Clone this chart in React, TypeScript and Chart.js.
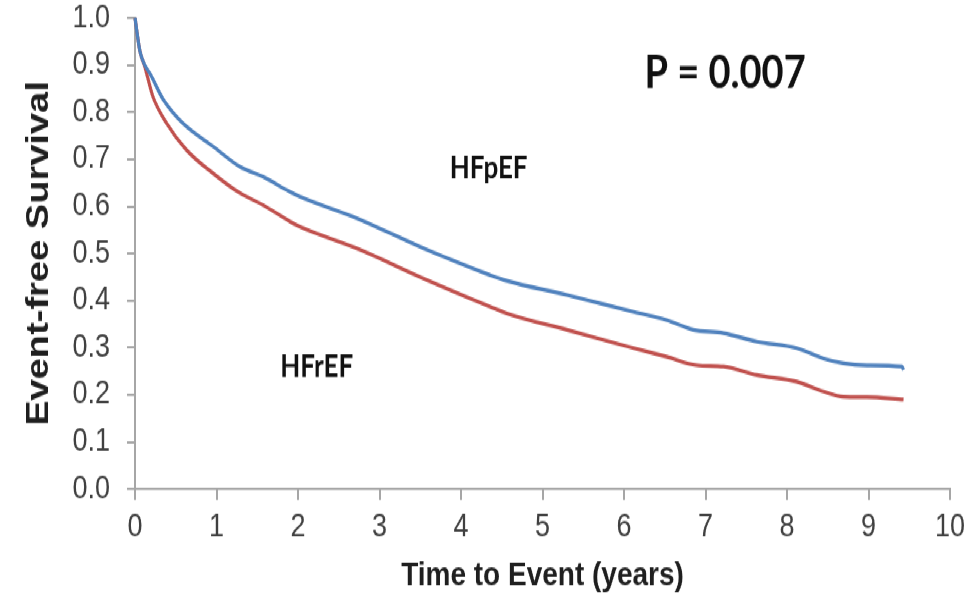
import React, { useEffect, useRef } from "react";
import { Chart, registerables } from "chart.js";

Chart.register(...registerables);

// ---- data ----
const hfpefTime = [0, 0.06, 0.12, 0.18, 0.35, 0.59, 0.96, 1.29, 1.57, 1.9, 2.02, 2.72, 3.54, 4.36, 4.56, 5.3, 6.12, 6.52, 6.85, 7.22, 7.63, 8.12, 8.45, 8.69, 8.98, 9.41, 9.43];
const hfpefSurvival = [1.0, 0.93, 0.9, 0.883, 0.826, 0.776, 0.727, 0.684, 0.663, 0.631, 0.621, 0.575, 0.511, 0.454, 0.442, 0.412, 0.376, 0.359, 0.338, 0.331, 0.313, 0.299, 0.277, 0.267, 0.263, 0.26, 0.253];

const hfrefTime = [0, 0.06, 0.12, 0.22, 0.39, 0.63, 0.96, 1.29, 1.57, 1.9, 2.02, 2.72, 3.54, 4.36, 4.56, 5.3, 6.12, 6.52, 6.89, 7.22, 7.63, 8.12, 8.45, 8.69, 8.98, 9.43];
const hfrefSurvival = [1.0, 0.93, 0.897, 0.833, 0.776, 0.72, 0.67, 0.628, 0.603, 0.568, 0.557, 0.511, 0.447, 0.387, 0.373, 0.338, 0.299, 0.281, 0.263, 0.26, 0.242, 0.228, 0.207, 0.196, 0.195, 0.19];

const xTitle = "Time to Event (years)";
const yTitle = "Event-free Survival";

const annotationLabels = ["P = 0.007", "HFpEF", "HFrEF"];
const annotationX = [7.24, 4.34, 2.23];
const annotationY = [0.851, 0.66, 0.238];

// ---- styling ----
const CANVAS_W = 979;
const CANVAS_H = 507;
const STRETCH = 603 / CANVAS_H;
const AXIS_COLOR = "#a6a6a6";
const TICK_COLOR = "#404040";
const TITLE_COLOR = "#1f1f1f";
const SANS = "'Liberation Sans', Arial, sans-serif";
const ANNOT_FONT_SIZES = [38, 26, 26];

const annotationPlugin = {
  id: "kmLabels",
  afterDatasetsDraw(chart: any) {
    const { ctx, scales } = chart;
    const xs = scales.x;
    const ys = scales.y;
    ctx.save();
    ctx.fillStyle = "#111111";
    ctx.textAlign = "center";
    ctx.textBaseline = "alphabetic";
    annotationLabels.forEach((text, i) => {
      ctx.font = `bold ${ANNOT_FONT_SIZES[i]}px Lato, 'Open Sans', sans-serif`;
      ctx.fillText(text, xs.getPixelForValue(annotationX[i]), ys.getPixelForValue(annotationY[i]));
    });
    ctx.restore();
  },
};

export default function App() {
  const ref = useRef<HTMLCanvasElement>(null);

  useEffect(() => {
    const canvas = ref.current;
    if (!canvas) return;
    const chart = new Chart(canvas, {
      type: "line",
      data: {
        datasets: [
          {
            label: "HFpEF",
            data: hfpefTime.map((t, i) => ({ x: t, y: hfpefSurvival[i] })),
            borderColor: "#4F81BD",
            backgroundColor: "#4F81BD",
            borderWidth: 3.2,
            pointRadius: 0,
            cubicInterpolationMode: "monotone",
            fill: false,
            clip: 4,
          },
          {
            label: "HFrEF",
            data: hfrefTime.map((t, i) => ({ x: t, y: hfrefSurvival[i] })),
            borderColor: "#C0504D",
            backgroundColor: "#C0504D",
            borderWidth: 3.2,
            pointRadius: 0,
            cubicInterpolationMode: "monotone",
            fill: false,
            clip: 4,
          },
        ],
      },
      options: {
        animation: false,
        responsive: false,
        events: [],
        layout: { padding: { top: 15.1, right: 29, bottom: 0, left: 0 } },
        plugins: {
          legend: { display: false },
          tooltip: { enabled: false },
        },
        scales: {
          x: {
            type: "linear",
            min: 0,
            max: 10,
            ticks: {
              stepSize: 1,
              padding: 7,
              color: TICK_COLOR,
              font: { family: SANS, size: 27 },
              maxRotation: 0,
              autoSkip: false,
            },
            grid: {
              drawOnChartArea: false,
              drawTicks: true,
              tickLength: 9,
              color: AXIS_COLOR,
              lineWidth: 2,
            },
            border: { display: true, color: AXIS_COLOR, width: 2 },
            title: {
              display: true,
              text: xTitle,
              color: TITLE_COLOR,
              font: { family: SANS, size: 28, weight: "bold" },
              padding: { top: 0, bottom: 6 },
            },
            afterFit: (s: any) => {
              s.height = CANVAS_H - 411.2;
              s.paddingLeft = 0;
              s.paddingRight = 0;
            },
          },
          y: {
            type: "linear",
            min: 0,
            max: 1,
            ticks: {
              stepSize: 0.1,
              padding: 17,
              color: TICK_COLOR,
              font: { family: SANS, size: 27 },
              callback: (v: any) => Number(v).toFixed(1),
            },
            grid: {
              drawOnChartArea: false,
              drawTicks: true,
              tickLength: 8,
              color: AXIS_COLOR,
              lineWidth: 2,
            },
            border: { display: true, color: AXIS_COLOR, width: 2 },
            title: {
              display: true,
              text: yTitle,
              color: TITLE_COLOR,
              font: { family: SANS, size: 32, weight: "bold" },
              padding: { top: 20, bottom: 0 },
            },
            afterFit: (s: any) => {
              s.width = 135;
              s.paddingTop = 0;
              s.paddingBottom = 0;
            },
          },
        },
      } as any,
      plugins: [annotationPlugin],
    });
    return () => chart.destroy();
  }, []);

  return (
    <div
      style={{
        position: "absolute",
        left: 0,
        top: 0,
        width: CANVAS_W,
        height: CANVAS_H,
        transform: `scaleY(${STRETCH})`,
        transformOrigin: "0 0",
        background: "#ffffff",
      }}
    >
      <canvas
        ref={ref}
        width={CANVAS_W}
        height={CANVAS_H}
        style={{ display: "block", width: `${CANVAS_W}px`, height: `${CANVAS_H}px` }}
      />
    </div>
  );
}
